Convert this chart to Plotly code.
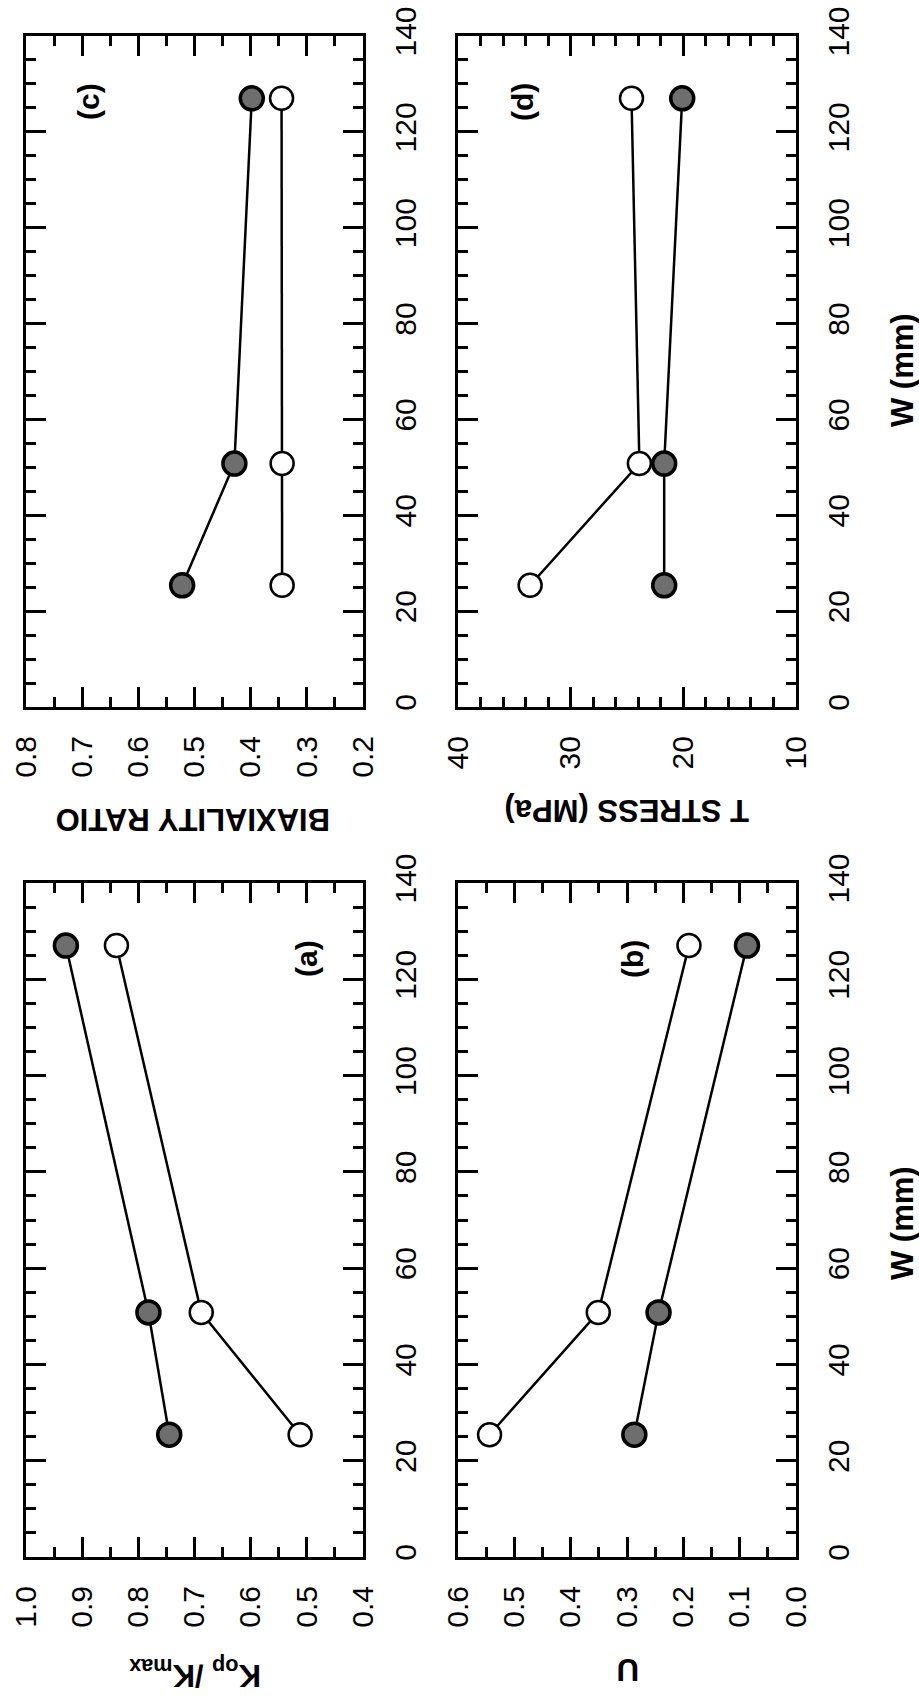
import plotly.graph_objects as go

# Specimen width W (mm)
W_MM = [25.4, 50.8, 127.0]

# (a) crack opening ratio Kop/Kmax
kop_filled = [0.745, 0.782, 0.929]
kop_open = [0.512, 0.688, 0.839]
# (b) U
u_filled = [0.287, 0.244, 0.087]
u_open = [0.544, 0.351, 0.190]
# (c) biaxiality ratio
biax_filled = [0.522, 0.429, 0.398]
biax_open = [0.344, 0.344, 0.345]
# (d) T stress (MPa)
tstress_filled = [21.7, 21.7, 20.1]
tstress_open = [33.6, 23.9, 24.6]

W_TICKS = [0, 20, 40, 60, 80, 100, 120, 140]

FIG_W, FIG_H = 919, 1699
FONT = "Liberation Sans, Arial, Helvetica, sans-serif"

COLS = [(26, 363), (458, 796)]      # pixel x extents of the two columns
ROWS = [(36, 707), (883, 1557)]     # pixel y extents (top, bottom)


def px_x(x):
    return x / FIG_W


def px_y(y):
    return 1 - y / FIG_H


panels = [
    # name, col, row, value range, major, minor, format, filled, open
    ("a", 0, 1, [1.0, 0.4], 0.1, 0.05, ".1f", kop_filled, kop_open),
    ("b", 1, 1, [0.6, 0.0], 0.1, 0.05, ".1f", u_filled, u_open),
    ("c", 0, 0, [0.8, 0.2], 0.1, 0.05, ".1f", biax_filled, biax_open),
    ("d", 1, 0, [40, 10], 10, 2, "d", tstress_filled, tstress_open),
]

fig = go.Figure()
layout = {}

for i, (name, c, r, vrange, major, minor, fmt, filled, opened) in enumerate(panels):
    k = "" if i == 0 else str(i + 1)
    xa, ya = "x" + k, "y" + k
    x0, x1 = COLS[c]
    ytop, ybot = ROWS[r]
    tick_common = dict(
        ticks="inside", ticklen=20, tickwidth=2.5, tickcolor="black",
        showline=True, linewidth=3, linecolor="black", mirror="ticks",
        showgrid=False, zeroline=False, tickangle=-90, automargin=False,
        tickfont=dict(family=FONT, size=30, color="black"),
    )
    layout["xaxis" + k] = dict(
        domain=[px_x(x0), px_x(x1)], range=vrange, anchor=ya,
        tick0=vrange[1], dtick=major, tickformat=fmt,
        minor=dict(ticks="inside", ticklen=10, tickwidth=2.5,
                   tickcolor="black", dtick=minor, tick0=vrange[1]),
        ticklabelstandoff=14,
        **tick_common,
    )
    layout["yaxis" + k] = dict(
        domain=[px_y(ybot), px_y(ytop)], range=[0, 140], anchor=xa,
        side="right", tickvals=W_TICKS,
        minor=dict(ticks="inside", ticklen=10, tickwidth=2.5,
                   tickcolor="black", dtick=5, tick0=0),
        ticklabelstandoff=14,
        **tick_common,
    )
    fig.add_trace(go.Scatter(
        x=opened, y=W_MM, xaxis=xa, yaxis=ya, mode="lines+markers",
        line=dict(color="black", width=2.5),
        marker=dict(size=23, color="white", line=dict(color="black", width=2.5)),
        showlegend=False, hoverinfo="skip",
    ))
    fig.add_trace(go.Scatter(
        x=filled, y=W_MM, xaxis=xa, yaxis=ya, mode="lines+markers",
        line=dict(color="black", width=2.5),
        marker=dict(size=23, color="#6e6e6e", line=dict(color="black", width=3.5)),
        showlegend=False, hoverinfo="skip",
    ))

annotations = []


def label(text, x, y, angle, size=31):
    annotations.append(dict(
        text=text, x=px_x(x), y=px_y(y), xref="paper", yref="paper",
        xanchor="center", yanchor="middle", showarrow=False, textangle=angle,
        font=dict(family=FONT, size=size, color="black", weight="bold"),
    ))


# value-axis titles (printed upside down)
label("K<sub>op</sub> /K<sub>max</sub>", 195, 1673, 180)
label("U", 628, 1670, 180)
label("BIAXIALITY RATIO", 193, 819, 180)
label("T STRESS (MPa)", 627, 810, 180)
# width-axis titles
label("W (mm)", 902, 1223, -90)
label("W (mm)", 902, 370, -90)
# panel tags
label("(a)", 306, 959, -90, 30)
label("(b)", 632, 959, -90, 30)
label("(c)", 88, 102, -90, 30)
label("(d)", 522, 102, -90, 30)

fig.update_layout(
    **layout,
    annotations=annotations,
    width=FIG_W, height=FIG_H,
    margin=dict(l=0, r=0, t=0, b=0, autoexpand=False),
    paper_bgcolor="white", plot_bgcolor="white",
    showlegend=False,
)

fig.write_html("out.html")
